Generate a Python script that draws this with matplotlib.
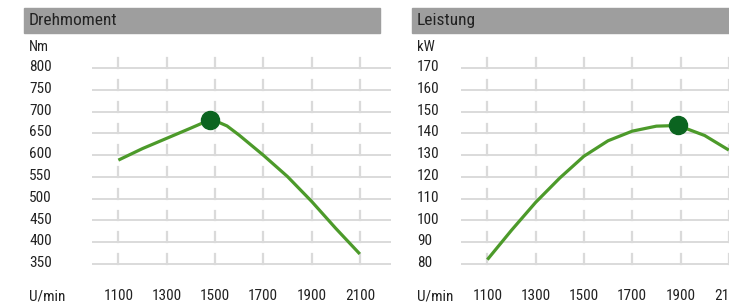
import matplotlib
matplotlib.use('Agg')
import matplotlib.pyplot as plt
import matplotlib.transforms as mtransforms
from matplotlib.patches import Rectangle

# Data
rpm_torque = [1100, 1200, 1300, 1400, 1450, 1480, 1500, 1550, 1600, 1700, 1800, 1900, 2000, 2100]
torque_nm = [588.5, 615, 638.5, 662, 674, 681, 679, 667, 646, 600, 551, 494, 432, 373]

rpm_power = [1100, 1200, 1300, 1400, 1500, 1600, 1700, 1800, 1890, 2000, 2100]
power_kw = [82, 95.5, 108.3, 119.5, 129.5, 136.6, 141, 143.3, 143.6, 139, 132.3]

x_ticks = [1100, 1300, 1500, 1700, 1900, 2100]
torque_ticks = [350, 400, 450, 500, 550, 600, 650, 700, 750, 800]
power_ticks = [80, 90, 100, 110, 120, 130, 140, 150, 160, 170]

plt.rcParams['font.family'] = ['Roboto Condensed', 'DejaVu Sans']

W, H = 729, 302
fig = plt.figure(figsize=(W / 100, H / 100), dpi=100)

line_col = '#4c9a2a'
dot_col = '#0b6420'
grid_col = '#dadada'
text_col = '#222222'
head_col = '#9e9e9e'


def fx(px):
    return px / W


def fy(py):
    return 1 - py / H


def panel(x_axes, x_text, x_head, title, unit, ticks, rpm, vals):
    ax = fig.add_axes([fx(x_axes), fy(264), fx(297), 196 / H])
    ax.set_xlim(995, 2225)
    ax.set_ylim(ticks[0], ticks[-1])
    ax.axis('off')
    step = ticks[1] - ticks[0]
    for t in ticks:
        ax.axhline(t, color=grid_col, lw=1.4, zorder=1, clip_on=False)
        for xt in x_ticks:
            ax.plot([xt, xt], [t, t + 0.45 * step], color=grid_col, lw=1.6,
                    zorder=1, clip_on=False)
    ax.plot(rpm, vals, color=line_col, lw=2.3, zorder=3, clip_on=False,
            solid_capstyle='butt', solid_joinstyle='round')
    i = vals.index(max(vals))
    ax.plot(rpm[i], vals[i], 'o', color=dot_col, ms=13, zorder=4, clip_on=False)

    ytrans = mtransforms.blended_transform_factory(fig.transFigure, ax.transData)
    xtrans = mtransforms.blended_transform_factory(ax.transData, fig.transFigure)
    for t in ticks:
        ax.text(fx(x_text), t + 0.04 * step, str(t), transform=ytrans,
                ha='left', va='center', fontsize=11, color=text_col)
    for xt in x_ticks:
        ax.text(xt, fy(296.5), str(xt), transform=xtrans, ha='center',
                va='center', fontsize=11, color=text_col, clip_on=False)
    fig.text(fx(x_text), fy(296.5), 'U/min', ha='left', va='center',
             fontsize=11, color=text_col)
    fig.text(fx(x_text), fy(46.7), unit, ha='left', va='center',
             fontsize=10.5, color=text_col)
    fig.patches.append(Rectangle((fx(x_head), fy(33)), fx(356), 25 / H,
                                 transform=fig.transFigure, color=head_col,
                                 zorder=0))
    fig.text(fx(x_text), fy(20.5), title, ha='left', va='center',
             fontsize=12.5, color=text_col)
    return ax


panel(93, 29, 24, 'Drehmoment', 'Nm', torque_ticks, rpm_torque, torque_nm)
panel(462, 417, 412, 'Leistung', 'kW', power_ticks, rpm_power, power_kw)

fig.savefig('out.png', dpi=100, facecolor='white')
